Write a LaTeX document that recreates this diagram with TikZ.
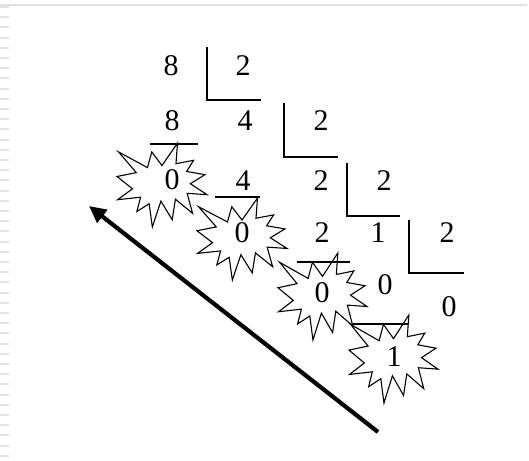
\documentclass[tikz,border=0pt]{standalone}
\usepackage{fontspec}
\setmainfont{Liberation Serif}
\usetikzlibrary{arrows.meta}
\definecolor{frame}{HTML}{E2E2E2}
% explosion outline (PowerPoint "Explosion 1"), in a 216 x 216 box
\newcommand\myexplosion[4]{%
  \begin{scope}[shift={(#1,#2)},xscale=#3/216,yscale=#4/216]
  \draw[burstline] (108,58) -- (145.22,0) -- (141.55,53.25) -- (183.80,44.57) -- (167.02,73.15)
   -- (210.97,81.37) -- (176.07,104.75) -- (216,132.90) -- (168.37,129.42) -- (181.45,180.95)
   -- (140.20,144.57) -- (132.47,197.37) -- (105.32,149.35) -- (84.85,216) -- (77.15,156.27)
   -- (47.62,176.17) -- (56.67,139.37) -- (1.35,145.87) -- (37.22,117.75) -- (0,86.15)
   -- (46.27,76.17) -- (3.70,22.95) -- (73.12,63.20) -- (83.52,22.95) -- cycle;
  \end{scope}}
\begin{document}
\begin{tikzpicture}[x=1pt,y=-1pt,
  num/.style={inner sep=0pt,font=\fontsize{30}{36}\selectfont},
  bracket/.style={line width=1.3pt},
  subline/.style={line width=1.3pt},
  burstline/.style={line width=1.1pt,line join=miter},
  bigarrow/.style={line width=4.2pt,-{Triangle[length=17pt,width=16pt]}}]
\useasboundingbox (0,0) rectangle (529,460);
\fill[white] (0,0) rectangle (529,460);
% frame
\draw[frame,line width=1.5pt] (0,5) -- (527,5);
\foreach \k in {0,...,44} \draw[frame,line width=2pt] (0,{7+10.2*\k}) -- (9,{7+10.2*\k});
% explosions
\myexplosion{117}{143}{90}{84}
\myexplosion{197}{198}{90}{82}
\myexplosion{278}{253}{89}{87}
\myexplosion{349}{315}{89}{88}
% row 1
\node[num] (r1a) at (171,66) {8};
\node[num] (r1b) at (243,66) {2};
% row 2
\node[num] (r2a) at (172,121) {8};
\node[num] (r2b) at (245,121) {4};
\node[num] (r2c) at (321,121) {2};
% row 3
\node[num] (r3a) at (172,180) {0};
\node[num] (r3b) at (243,181) {4};
\node[num] (r3c) at (321,181) {2};
\node[num] (r3d) at (384,181) {2};
% row 4
\node[num] (r4a) at (242,233) {0};
\node[num] (r4b) at (322,233) {2};
\node[num] (r4c) at (378,233) {1};
\node[num] (r4d) at (447,233) {2};
% row 5
\node[num] (r5a) at (322,293) {0};
\node[num] (r5b) at (385,285) {0};
\node[num] (r5c) at (449,307) {0};
% row 6
\node[num] (r6a) at (394,357) {1};
% division brackets
\draw[bracket] (207,47) -- (207,100) -- (261,100);
\draw[bracket] (284,103) -- (284,157) -- (338,157);
\draw[bracket] (347,163) -- (347,216) -- (400,216);
\draw[bracket] (409,220) -- (409,273) -- (464,273);
% subtraction lines
\draw[subline] (150,144) -- (198,144);
\draw[subline] (215,197) -- (260,197);
\draw[subline] (297,262) -- (350,262);
\draw[subline] (353,324) -- (408,324);
% arrow
\coordinate (as) at (378,432);
\coordinate (ae) at (89,206);
\draw[bigarrow] (as) -- (ae);
\end{tikzpicture}
\end{document}
